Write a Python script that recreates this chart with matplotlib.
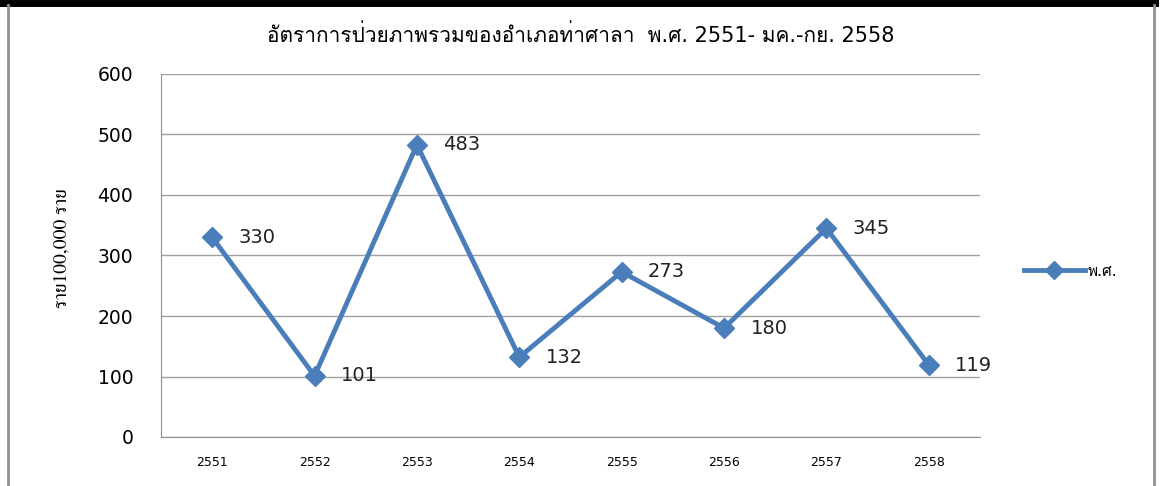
import matplotlib.pyplot as plt
from matplotlib.lines import Line2D

years = ['2551', '2552', '2553', '2554', '2555', '2556', '2557', '2558']
rates = [330, 101, 483, 132, 273, 180, 345, 119]
y_ticks = [0, 100, 200, 300, 400, 500, 600]

title = 'อัตราการป่วยภาพรวมของอำเภอท่าศาลา  พ.ศ. 2551- มค.-กย. 2558'
y_label = 'ราย100,000 ราย'
legend_label = 'พ.ศ.'

plt.rcParams['font.family'] = ['DejaVu Sans', 'Loma']

fig = plt.figure(figsize=(11.6, 4.86), dpi=100)
ax = fig.add_axes([161 / 1160, 1 - 437 / 486, 819 / 1160, 363 / 486])

blue = '#4a7ebb'
x = list(range(len(years)))
ax.plot(x, rates, color=blue, lw=3.5, marker='D', ms=10, mec=blue, mfc=blue)
for xi, v in zip(x, rates):
    ax.annotate(str(v), (xi, v), xytext=(19, 0), textcoords='offset points',
                ha='left', va='center', fontsize=14, color='#222222')

ax.set_xlim(-0.5, 7.5)
ax.set_ylim(0, 600)
ax.set_yticks(y_ticks)
ax.set_xticks(x)
ax.set_xticklabels(years, fontsize=9)
ax.tick_params(axis='y', labelsize=13.5, length=0, pad=20)
ax.tick_params(axis='x', length=0, pad=14)
ax.grid(axis='y', color='#a0a0a0', lw=1)
ax.set_axisbelow(True)
for s in ['top', 'right']:
    ax.spines[s].set_visible(False)
for s in ['left', 'bottom']:
    ax.spines[s].set_color('#909090')

fig.text(581 / 1160, 1 - 35 / 486, title, ha='center', va='center', fontsize=15)
fig.text(62 / 1160, 1 - 248 / 486, y_label, rotation=90, ha='center', va='center',
         fontsize=14, family=['FreeSerif', 'DejaVu Serif'])

handle = Line2D([], [], color=blue, lw=3.5, marker='D', ms=9)
fig.legend([handle], [legend_label], loc='center left', frameon=False,
           bbox_to_anchor=(1010 / 1160, 1 - 271 / 486), fontsize=11,
           handlelength=4.0, handletextpad=0.2)

# screenshot frame
fig.add_artist(Line2D([0, 1155 / 1160], [1 - 3 / 486] * 2, color='black', lw=5))
fig.add_artist(Line2D([8 / 1160] * 2, [0, 1 - 5 / 486], color='#909090', lw=2))
fig.add_artist(Line2D([1154 / 1160] * 2, [0, 1 - 5 / 486], color='#909090', lw=2))

fig.savefig('out.png', dpi=100)
